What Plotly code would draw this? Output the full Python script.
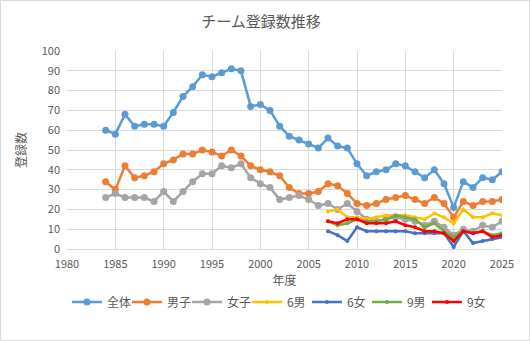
import plotly.graph_objects as go

years_all = list(range(1984, 2026))
zentai = [60, 58, 68, 62, 63, 63, 62, 69, 77, 82, 88, 87, 89, 91, 90, 72, 73, 70, 62, 57, 55, 53,
          51, 56, 52, 51, 43, 37, 39, 40, 43, 42, 39, 36, 40, 33, 21, 34, 31, 36, 35, 39]
danshi = [34, 30, 42, 36, 37, 39, 43, 45, 48, 48, 50, 49, 47, 50, 47, 42, 40, 39, 37, 31, 28, 28,
          29, 33, 32, 28, 23, 22, 23, 25, 26, 27, 25, 23, 26, 23, 16, 24, 22, 24, 24, 25]
joshi = [26, 28, 26, 26, 26, 24, 29, 24, 29, 34, 38, 38, 42, 41, 43, 36, 33, 31, 25, 26, 27, 25,
         22, 23, 20, 23, 19, 15, 14, 15, 16, 15, 14, 12, 14, 11, 7, 10, 9, 12, 11, 14]

years_sub = list(range(2007, 2026))
m6 = [19, 20, 16, 16, 15, 16, 17, 17, 17, 16, 15, 18, 16, 13, 20, 16, 16, 18, 17]
f6 = [9, 7, 4, 11, 9, 9, 9, 9, 9, 8, 8, 8, 8, 1, 9, 3, 4, 5, 6]
m9 = [14, 12, 13, 15, 14, 14, 15, 17, 16, 15, 11, 13, 9, 6, 9, 8, 9, 7, 8]
f9 = [14, 13, 15, 15, 13, 13, 13, 14, 12, 11, 9, 9, 8, 4, 9, 8, 9, 6, 7]

x_ticks = [1980, 1985, 1990, 1995, 2000, 2005, 2010, 2015, 2020, 2025]
y_ticks = [0, 10, 20, 30, 40, 50, 60, 70, 80, 90, 100]

FONT = "Noto Sans CJK JP"
TXT = "#595959"

fig = go.Figure()
main = [("全体", zentai, "#5B9BD5"), ("男子", danshi, "#ED7D31"), ("女子", joshi, "#A5A5A5")]
for name, vals, col in main:
    fig.add_trace(go.Scatter(x=years_all, y=vals, name=name, mode="lines+markers",
                             line=dict(color=col, width=2.5),
                             marker=dict(color=col, size=7)))
subs = [("6男", m6, "#FFC000"), ("6女", f6, "#4472C4"), ("9男", m9, "#70AD47"), ("9女", f9, "#FF0000")]
for name, vals, col in subs:
    fig.add_trace(go.Scatter(x=years_sub, y=vals, name=name, mode="lines+markers",
                             line=dict(color=col, width=2.5),
                             marker=dict(color=col, size=4)))

W, H = 530, 341
L, R, T, B = 67, 28, 51, 92
pw, ph = W - L - R, H - T - B

fig.update_layout(
    width=W, height=H,
    margin=dict(l=L, r=R, t=T, b=B, autoexpand=False),
    paper_bgcolor="white", plot_bgcolor="white",
    font=dict(family=FONT, color=TXT, size=11),
    title=dict(text="チーム登録数推移", x=(261) / W, xanchor="center",
               y=1 - 22 / H, yanchor="middle",
               font=dict(size=15, color=TXT, family=FONT)),
    xaxis=dict(range=[1980, 2025], tickvals=x_ticks, showgrid=True, gridcolor="#D9D9D9",
               gridwidth=1, zeroline=False, showline=True, linecolor="#D9D9D9",
               ticks="", ticklabelstandoff=5, tickfont=dict(size=11, color=TXT),
               title=dict(text="年度", font=dict(size=12, color=TXT), standoff=3)),
    yaxis=dict(range=[0, 100], tickvals=y_ticks, showgrid=True, gridcolor="#D9D9D9",
               gridwidth=1, zeroline=False, showline=False, ticks="",
               ticklabelstandoff=6,
               tickfont=dict(size=11, color=TXT),
               title=dict(text="登録数", font=dict(size=12, color=TXT), standoff=12)),
    legend=dict(orientation="h", x=-0.0001, xanchor="left", y=-(302 - 249) / ph, yanchor="middle",
                font=dict(size=12, color=TXT), entrywidth=15, entrywidthmode="pixels",
                tracegroupgap=0, bgcolor="rgba(0,0,0,0)"),
    showlegend=True,
)

fig.add_shape(type="rect", xref="paper", yref="paper",
              x0=(0.5 - L) / pw, x1=(W - 0.5 - L) / pw,
              y0=-(H - 0.5 - T - ph) / ph, y1=(ph + T - 0.5) / ph,
              line=dict(color="#D9D9D9", width=1), layer="below")

fig.write_html("out.html")
